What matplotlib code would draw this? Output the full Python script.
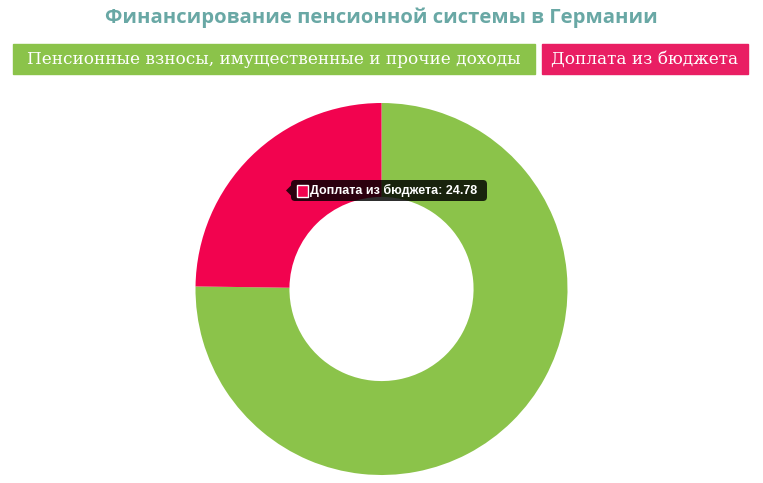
import matplotlib
matplotlib.use('Agg')
from matplotlib import pyplot as plt
from matplotlib.patches import FancyBboxPatch, Rectangle, Polygon

title = "Финансирование пенсионной системы в Германии"
labels = ["Пенсионные взносы, имущественные и прочие доходы", "Доплата из бюджета"]
values = [75.22, 24.78]
pie_colors = ["#8bc34a", "#f2034f"]
legend_colors = ["#8bc34a", "#e91e63"]

W, H = 763, 483
fig = plt.figure(figsize=(W / 100, H / 100), dpi=100)
ax = fig.add_axes([0, 0, 1, 1])
ax.set_xlim(0, W)
ax.set_ylim(0, H)
ax.set_aspect('equal')
ax.axis('off')

# donut, chart.js style: starts at top, clockwise
cx, cy, r = 381.5, H - 289, 186
ax.pie(values, colors=pie_colors, startangle=90, counterclock=False,
       center=(cx, cy), radius=r, frame=True,
       wedgeprops=dict(width=r * 0.505, edgecolor='none'))
ax.set_xlim(0, W)
ax.set_ylim(0, H)
ax.axis('off')

# title
ax.text(W / 2, H - 18, title, ha='center', va='center', fontsize=14.6,
        fontweight='bold', family='Open Sans', color='#69a8a5')

# legend boxes
boxes = [(13, 535), (542, 748)]
for (x0, x1), lab, col in zip(boxes, labels, legend_colors):
    ax.add_patch(Rectangle((x0, H - 74), x1 - x0, 30, color=col, zorder=3))
    ax.text((x0 + x1) / 2, H - 59.5, lab, ha='center', va='center', fontsize=12.2,
            family='DejaVu Serif', color='white', zorder=4)

# tooltip
tx0, tx1, ty0, ty1 = 291, 487, H - 201, H - 180
ax.add_patch(FancyBboxPatch((tx0 + 4, ty0 + 4), tx1 - tx0 - 8, ty1 - ty0 - 8,
                            boxstyle='round,pad=4', fc='black', ec='none',
                            alpha=0.82, zorder=5))
ym = (ty0 + ty1) / 2
ax.add_patch(Polygon([(tx0, ym + 5), (tx0 - 5, ym), (tx0, ym - 5)],
                     closed=True, fc='black', ec='none', alpha=0.82, zorder=5))
ax.add_patch(Rectangle((297, ym - 6), 11, 12, fc=pie_colors[1], ec='white',
                       lw=1, zorder=6))
ax.text(310, ym, f"{labels[1]}: {values[1]}", ha='left', va='center',
        fontsize=9, fontweight='bold', family='Liberation Sans',
        color='white', zorder=6)

fig.savefig('out.png', dpi=100)
